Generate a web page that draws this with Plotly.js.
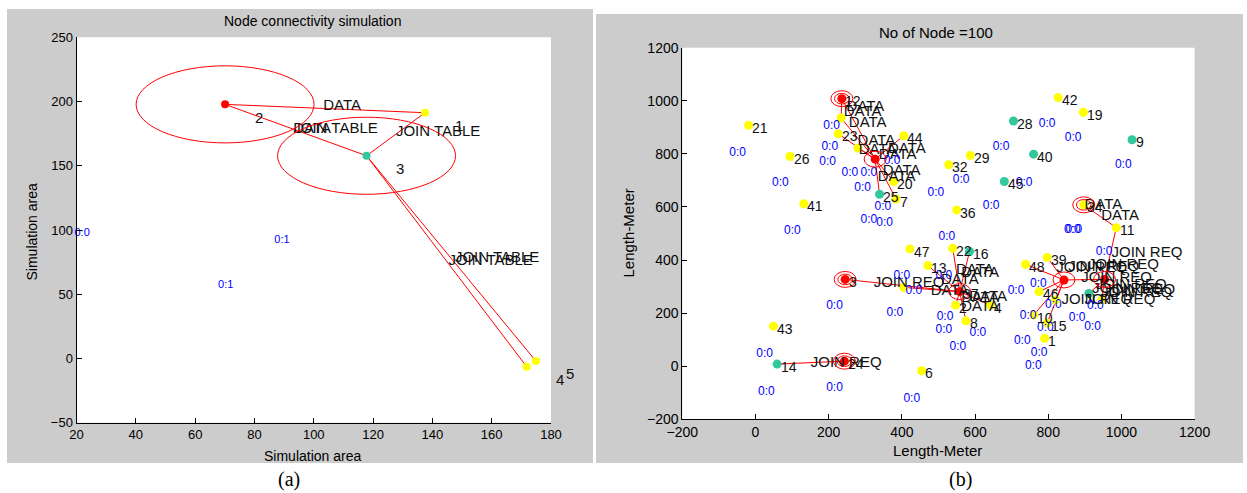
<!DOCTYPE html>
<html><head><meta charset="utf-8">
<script src="https://cdn.plot.ly/plotly-3.0.1.min.js"></script>
<style>html,body{margin:0;padding:0;background:#fff}#chart{width:1247px;height:493px}</style>
</head><body><div id="chart"></div>
<script>
// ---------- Panel (a): Node connectivity simulation ----------
const aNodeLabel = ['1','2','3','4','5'];
const aNodeX = [137.5, 70.1, 117.8, 171.8, 174.9];
const aNodeY = [191.3, 197.8, 157.8, -6.4, -2.0];
const aNodeRole = ['member','head','gateway','member','member'];
const aLinks = [[1,0],[1,2],[2,0],[2,3],[2,4]];
const aRangeNodes = [1,2];
const aRadius = 30;
const aMsgText = ['DATA','DATA','JOIN TABLE','JOIN TABLE','JOIN TABLE','JOIN TABLE'];
const aMsgX = [103.2, 93.1, 93.1, 127.7, 147.6, 145.4];
const aMsgY = [196, 178.4, 178.4, 175.7, 78, 75.3];
const aSlotText = ['0:0','0:1','0:1'];
const aSlotX = [21.9, 89.3, 70.3];
const aSlotY = [97.7, 91.7, 57.2];

// ---------- Panel (b): No of Node =100 ----------
const bNodeLabel = ['12','','3','37','24','','','34','21','26','41','43','6','47','22','13','8','4','2','32','29','36','44','42','19','11','48','39','10','1','15','23','','','20','7','','46','','','9','28','40','45','25','16','14',''];
const bNodeX = [236,327,245,558,243,843,954,897,-19,94,132,49,454,422,539,471,575,642,547,528,587,550,405,827,896,986,738,797,760,790,797,226,234,280,378,384,405,775,820,946,1029,705,760,680,339,585,59,911];
const bNodeY = [1008,780,327,281,19,325,327,608,908,790,612,151,-17,442,444,379,171,230,230,759,794,589,868,1012,957,522,384,410,193,105,162,876,935,822,696,630,297,281,249,249,853,924,799,696,648,432,8,274];
const bNodeRole = ['head','head','head','head','head','head','head','member','member','member','member','member','member','member','member','member','member','member','member','member','member','member','member','member','member','member','member','member','member','member','member','member','member','member','member','member','member','member','member','member','gateway','gateway','gateway','gateway','gateway','gateway','gateway','gateway'];
const bLinks = [[0,32],[0,1],[31,1],[32,1],[33,1],[22,1],[1,34],[1,35],[1,44],
  [2,3],[3,14],[3,45],[3,15],[3,16],[3,17],[3,18],[3,36],
  [4,46],
  [5,26],[5,27],[5,28],[5,30],[5,37],[5,38],[5,6],
  [6,25],[25,7],[6,39],[6,47]];
const bRangeNodes = [0,1,2,3,4,5,6,7];
const bInnerRangeNodes = [0,2,4,7];
const bRadius = 30;
const bInnerRadius = 20;
const bMsgText = ['DATA','DATA','DATA','DATA','DATA','DATA','DATA','DATA','DATA','DATA','DATA','DATA','DATA','DATA','DATA','DATA','DATA','DATA',
  'JOIN REQ','JOIN REQ','JOIN REQ','JOIN REQ','JOIN REQ','JOIN REQ','JOIN REQ','JOIN REQ','JOIN REQ','JOIN REQ','JOIN REQ','JOIN REQ','JOIN REQ'];
const bMsgX = [249,241,255,279,362,282,337,348,334,899,945,548,562,507,479,562,584,562,
  973,822,855,909,890,953,930,920,945,836,899,323,151];
const bMsgY = [974,955,917,846,819,815,796,736,710,608,566,362,351,325,283,257,261,223,
  427,370,374,381,332,287,304,289,274,249,249,313,12];
const bSlotX = [-49,68,208,203,197,258,310,373,293,348,310,353,101,493,562,671,797,868,1005,734,644,866,870,523,953,400,433,515,216,381,518,515,608,553,712,773,745,792,879,921,929,814,729,775,759,25,30,216,427];
const bSlotY = [804,691,906,827,770,729,729,774,672,600,551,540,510,653,702,827,913,861,759,691,604,513,513,487,430,340,283,340,227,200,185,136,125,72,283,310,189,144,181,147,227,230,95,49,0,46,-98,-83,-124];
const bSlotText = bSlotX.map(() => '0:0');

// ---------- styling ----------
const W = 1247, H = 493;
const FONT = 'Liberation Sans, Arial, Helvetica, sans-serif';
const roleColor = {head: '#ff0000', member: '#ffff00', gateway: '#31c89e'};
const LABEL_DX = 10, LABEL_DY = 10;
const aRangeX = [20, 180], aRangeY = [-50, 250];
const bRangeX = [-200, 1200], bRangeY = [-200, 1200];
const aDom = {x: [76.5, 551], y: [37.3, 422.7]};
const bDom = {x: [682.3, 1194.6], y: [47.7, 419.3]};

function px(x) { return x / W; }
function py(y) { return 1 - y / H; }

function linkTrace(xs, ys, links, xa, ya) {
  const lx = [], ly = [];
  links.forEach(([a, b]) => { lx.push(xs[a], xs[b], null); ly.push(ys[a], ys[b], null); });
  return {x: lx, y: ly, xaxis: xa, yaxis: ya, mode: 'lines', type: 'scatter',
    line: {color: '#ff0000', width: 1}, hoverinfo: 'skip', showlegend: false, cliponaxis: false};
}
function nodeTrace(xs, ys, roles, xa, ya, size) {
  return {x: xs, y: ys, xaxis: xa, yaxis: ya, mode: 'markers', type: 'scatter',
    marker: {size: size, color: roles.map(r => roleColor[r]), line: {width: 0}},
    hoverinfo: 'skip', showlegend: false, cliponaxis: false};
}
function textTrace(xs, ys, texts, xa, ya, size, color, pos) {
  return {x: xs, y: ys, text: texts, xaxis: xa, yaxis: ya, mode: 'text', type: 'scatter',
    textposition: pos, textfont: {family: FONT, size: size, color: color},
    hoverinfo: 'skip', showlegend: false, cliponaxis: false};
}
function rings(xs, ys, idx, r, xref, yref) {
  return idx.map(i => ({type: 'circle', xref: xref, yref: yref,
    x0: xs[i] - r, x1: xs[i] + r, y0: ys[i] - r, y1: ys[i] + r,
    line: {color: '#ff0000', width: 1}, fillcolor: 'rgba(0,0,0,0)'}));
}
// node number labels: MATLAB-style text(x+10, y-10), anchored at the node and shifted by the axis scale
function nodeLabels(xs, ys, labels, xref, yref, dom, rx, ry, size) {
  const sx = (dom.x[1] - dom.x[0]) / (rx[1] - rx[0]);
  const sy = (dom.y[1] - dom.y[0]) / (ry[1] - ry[0]);
  const out = [];
  labels.forEach((t, i) => {
    if (!t) return;
    out.push({text: t, xref: xref, yref: yref, x: xs[i], y: ys[i],
      xanchor: 'left', yanchor: 'middle', showarrow: false,
      xshift: LABEL_DX * sx - 2, yshift: -LABEL_DY * sy,
      font: {family: FONT, size: size, color: '#111'}});
  });
  return out;
}

const traces = [
  linkTrace(aNodeX, aNodeY, aLinks, 'x', 'y'),
  nodeTrace(aNodeX, aNodeY, aNodeRole, 'x', 'y', 8),
  textTrace(aMsgX, aMsgY, aMsgText, 'x', 'y', 15, '#111', 'middle right'),
  textTrace(aSlotX, aSlotY, aSlotText, 'x', 'y', 11, '#0000ff', 'middle center'),

  linkTrace(bNodeX, bNodeY, bLinks, 'x2', 'y2'),
  nodeTrace(bNodeX, bNodeY, bNodeRole, 'x2', 'y2', 9),
  textTrace(bMsgX, bMsgY, bMsgText, 'x2', 'y2', 15, '#111', 'middle right'),
  textTrace(bSlotX, bSlotY, bSlotText, 'x2', 'y2', 12, '#0000ff', 'middle center')
];

function axis(dom, range, dtick, anchor, tsize, isY) {
  return {
    domain: isY ? [py(dom[1]), py(dom[0])] : [px(dom[0]), px(dom[1])],
    range: range, autorange: false, dtick: dtick, tick0: range[0], anchor: anchor,
    ticks: 'inside', ticklen: 5, tickwidth: 1, tickcolor: '#000',
    showline: true, linecolor: '#000', linewidth: 1, mirror: false,
    showgrid: false, zeroline: false, fixedrange: true,
    tickfont: {family: FONT, size: tsize, color: '#000'}
  };
}

const shapes = [
  {type: 'rect', xref: 'paper', yref: 'paper', x0: px(7), x1: px(593), y0: py(463), y1: py(9), fillcolor: '#cccccc', line: {width: 0}, layer: 'below'},
  {type: 'rect', xref: 'paper', yref: 'paper', x0: px(596), x1: px(1243), y0: py(463), y1: py(14), fillcolor: '#cccccc', line: {width: 0}, layer: 'below'},
  {type: 'rect', xref: 'paper', yref: 'paper', x0: px(aDom.x[0]), x1: px(aDom.x[1]), y0: py(aDom.y[1]), y1: py(aDom.y[0]), fillcolor: '#ffffff', line: {width: 0}, layer: 'below'},
  {type: 'rect', xref: 'paper', yref: 'paper', x0: px(bDom.x[0]), x1: px(bDom.x[1]), y0: py(bDom.y[1]), y1: py(bDom.y[0]), fillcolor: '#ffffff', line: {width: 0}, layer: 'below'}
].concat(
  rings(aNodeX, aNodeY, aRangeNodes, aRadius, 'x', 'y'),
  rings(bNodeX, bNodeY, bRangeNodes, bRadius, 'x2', 'y2'),
  rings(bNodeX, bNodeY, bInnerRangeNodes, bInnerRadius, 'x2', 'y2')
);

function note(text, x, y, size, extra) {
  return Object.assign({text: text, xref: 'paper', yref: 'paper', x: px(x), y: py(y),
    xanchor: 'center', yanchor: 'middle', showarrow: false,
    font: {family: FONT, size: size, color: '#000'}}, extra || {});
}

const annotations = [
  note('Node connectivity simulation', 312, 21, 14),
  note('Simulation area', 312, 456, 14),
  note('Simulation area', 31.5, 232, 14, {textangle: -90}),
  note('No of Node =100', 936, 32, 15),
  note('Length-Meter', 937, 450, 15),
  note('Length-Meter', 628.5, 233, 15, {textangle: -90}),
  note('(a)', 289, 479, 20, {font: {family: 'Liberation Serif, Times New Roman, serif', size: 20, color: '#000'}}),
  note('(b)', 960, 479, 20, {font: {family: 'Liberation Serif, Times New Roman, serif', size: 20, color: '#000'}})
].concat(
  nodeLabels(aNodeX, aNodeY, aNodeLabel, 'x', 'y', aDom, aRangeX, aRangeY, 15),
  nodeLabels(bNodeX, bNodeY, bNodeLabel, 'x2', 'y2', bDom, bRangeX, bRangeY, 14)
);

const layout = {
  width: W, height: H,
  margin: {l: 0, r: 0, t: 0, b: 0, pad: 0},
  paper_bgcolor: '#ffffff', plot_bgcolor: '#ffffff',
  showlegend: false, hovermode: false,
  font: {family: FONT, color: '#000'},
  xaxis: axis(aDom.x, aRangeX, 20, 'y', 13, false),
  yaxis: axis(aDom.y, aRangeY, 50, 'x', 13, true),
  xaxis2: axis(bDom.x, bRangeX, 200, 'y2', 14, false),
  yaxis2: axis(bDom.y, bRangeY, 200, 'x2', 14, true),
  shapes: shapes,
  annotations: annotations
};

Plotly.newPlot('chart', traces, layout, {staticPlot: true, displayModeBar: false});
</script></body></html>
